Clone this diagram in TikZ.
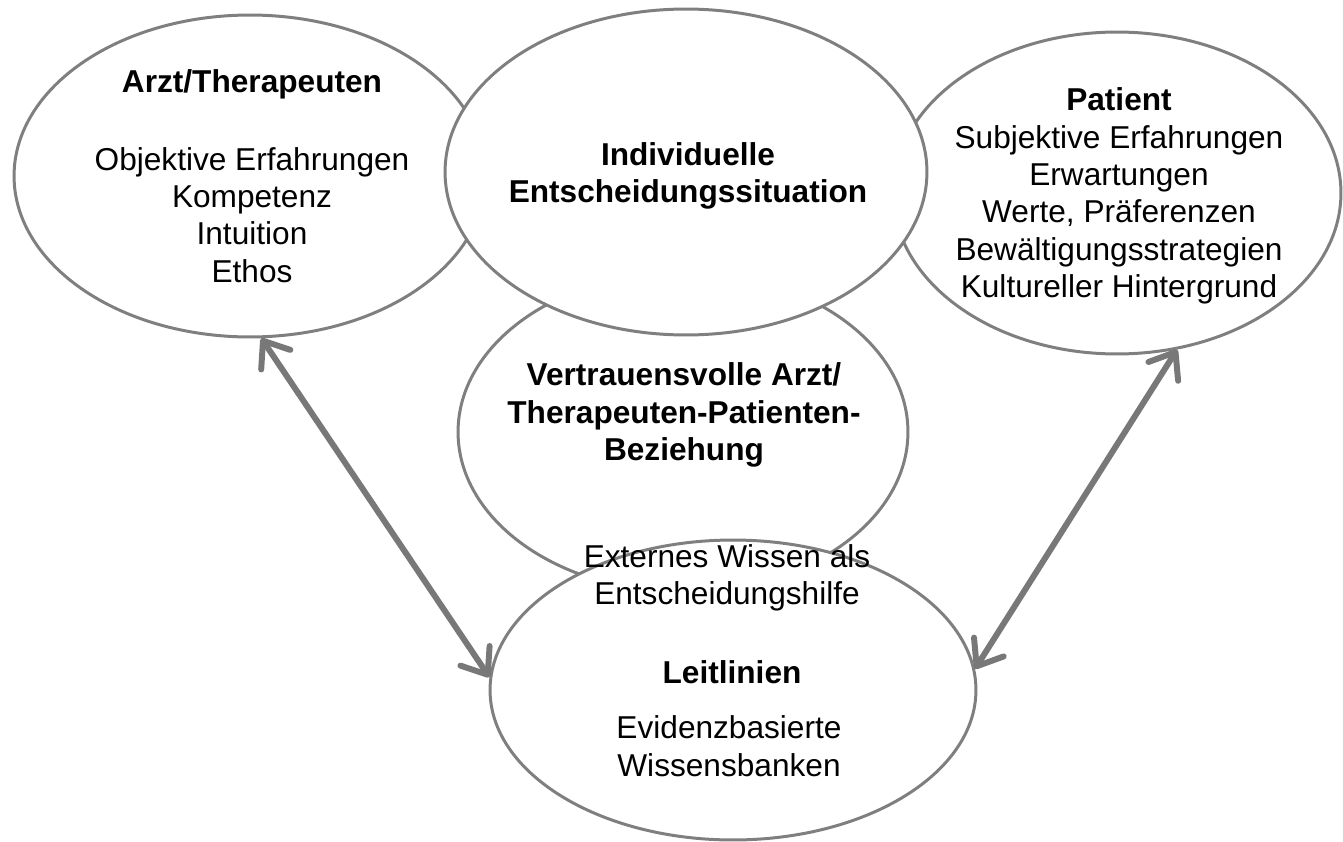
\documentclass[tikz,border=0pt]{standalone}
\usepackage{fontspec}
\setmainfont{Liberation Sans}
\usetikzlibrary{arrows.meta, shapes.geometric, positioning, calc}
\definecolor{ringgray}{RGB}{127,127,127}
\definecolor{arrowgray}{RGB}{120,120,120}

\begin{document}
\begin{tikzpicture}[x=0.02cm, y=-0.02cm,
    bubble/.style={ellipse, draw=ringgray, fill=white, line width=1.7pt, inner sep=0pt},
    caption/.style={align=center, inner sep=0pt, font=\fontsize{18}{21.3}\selectfont},
    link/.style={draw=arrowgray, line width=3.4pt, line cap=round,
      >={Straight Barb[length=13pt, width=20pt, round]}, <->}]
      \useasboundingbox (0, 0) rectangle (1343, 842);

      % ellipses, back to front
      \node[bubble, minimum width=9.0cm, minimum height=6.4cm] (bezug) at (683, 432) {};
      \node[bubble, minimum width=9.44cm, minimum height=6.44cm] (arzt) at (250, 176) {};
      \node[bubble, minimum width=8.96cm, minimum height=6.44cm] (patient) at (1117, 193) {};
      \node[bubble, minimum width=9.72cm, minimum height=6.0cm] (leit) at (733, 690) {};
      \node[bubble, minimum width=9.64cm, minimum height=6.52cm] (situation) at (686, 172) {};

      % texts
      \node[caption] (arzttext) at (252, 176) {\textbf{Arzt/Therapeuten}\\[22.9pt]Objektive Erfahrungen\\Kompetenz\\Intuition\\Ethos};
      \node[caption] (situationtext) at (688, 176) {\textbf{Individuelle}\\\textbf{Entscheidungssituation}};
      \node[caption] (patienttext) at (1119, 196) {\textbf{Patient}\\Subjektive Erfahrungen\\Erwartungen\\Werte, Präferenzen\\Bewältigungsstrategien\\Kultureller Hintergrund};
      \node[caption] (bezugtext) at (684, 415) {\textbf{Vertrauensvolle Arzt/}\\\textbf{Therapeuten-Patienten-}\\\textbf{Beziehung}};
      \node[caption] (leitoben) at (727, 578) {Externes Wissen als\\Entscheidungshilfe};
      \node[caption] (leittitel) at (732, 672) {\textbf{Leitlinien}};
      \node[caption] (leitunten) at (729, 746) {Evidenzbasierte\\Wissensbanken};

      % arrows
      \draw[link] (arzt.-86) -- (leit.177);
      \draw[link] (patient.-69) -- (leit.5);

\end{tikzpicture}
\end{document}
